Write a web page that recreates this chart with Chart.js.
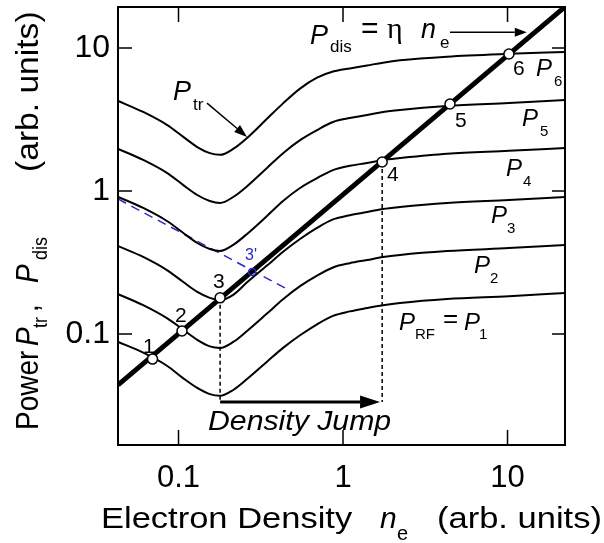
<!DOCTYPE html>
<html><head><meta charset="utf-8">
<script src="https://cdn.jsdelivr.net/npm/chart.js@4.4.1/dist/chart.umd.min.js"></script>
<style>html,body{margin:0;padding:0;background:#fff;}#wrap{width:604px;height:543px;}</style>
</head><body><div id="wrap"><canvas id="c" width="604" height="543"></canvas></div>
<script>
// ---------- DATA ----------
const density = [0.043,0.061,0.085,0.107,0.13,0.155,0.179,0.215,0.261,0.345,0.432,0.548,0.695,0.869,1.10,1.40,1.75,2.22,4.29,10.2,22.4];
const P1 = [0.088,0.074,0.060,0.049,0.042,0.038,0.037,0.0406,0.0484,0.064,0.080,0.098,0.117,0.134,0.144,0.152,0.159,0.165,0.176,0.184,0.1935];
const P2 = [0.190,0.159,0.129,0.107,0.091,0.082,0.080,0.088,0.105,0.139,0.175,0.216,0.256,0.292,0.313,0.329,0.345,0.357,0.380,0.399,0.419];
const P3 = [0.412,0.346,0.280,0.231,0.197,0.179,0.173,0.188,0.230,0.301,0.376,0.462,0.552,0.633,0.678,0.713,0.749,0.773,0.824,0.865,0.908];
const P4 = [0.909,0.761,0.617,0.509,0.433,0.393,0.381,0.420,0.501,0.669,0.852,1.05,1.23,1.40,1.50,1.57,1.65,1.70,1.82,1.91,2.00];
const P5 = [1.97,1.65,1.34,1.10,0.938,0.851,0.825,0.908,1.08,1.45,1.84,2.27,2.67,3.04,3.24,3.40,3.57,3.69,3.93,4.13,4.33];
const P6 = [4.26,3.57,2.90,2.39,2.03,1.84,1.79,1.97,2.35,3.20,4.10,5.20,6.20,6.85,7.20,7.55,7.90,8.20,8.70,9.10,9.38];
const curves = [P1,P2,P3,P4,P5,P6];

const disN = [0.0429, 22.36];          // P_dis = eta * n_e
const disP = [0.0441, 19.4];

const opN = [0.0695, 0.105, 0.179, 1.73, 4.47, 10.2];   // operating points 1..6
const opP = [0.0668, 0.105, 0.179, 1.595, 4.06, 9.08];
const opLabels = ['1','2','3','4','5','6'];

const p3primeN = [0.280];
const p3primeP = [0.271];
const blueN = [0.0429, 0.444];
const blueP = [0.879, 0.210];

const jumpN = [0.179, 1.73];       // vertical dashed lines
const jumpTopP = [0.179, 1.595];
const jumpBaseP = 0.0335;
const jumpArrowN = [0.179, 1.68];

const ptrArrowN = [0.149, 0.261], ptrArrowP = [4.12, 2.39];
const disArrowN = [4.47, 13.1],  disArrowP = [12.9, 12.9];

const xTicks = [0.1, 1, 10];
const xTickLabels = ['0.1','1','10'];
const yTicks = [0.1, 1, 10];
const yTickLabels = ['0.1','1','10'];

// ---------- STYLE ----------
const FONT = '"Liberation Sans", Arial, Helvetica, sans-serif';
const BLUE = '#2a2ac4';

const pts = (xs, ys) => xs.map((x,i)=>({x, y: Array.isArray(ys)? ys[i] : ys}));

const datasets = [];
datasets.push({data: pts(opN, opP), showLine:false, pointRadius:5, pointBackgroundColor:'#fff', pointBorderColor:'#000', pointBorderWidth:1.5});
datasets.push({data: pts(p3primeN, p3primeP), showLine:false, pointRadius:3.5, pointBackgroundColor:'rgba(0,0,0,0)', pointBorderColor:BLUE, pointBorderWidth:1.5});
datasets.push({data: pts(disN, disP), showLine:true, borderColor:'#000', borderWidth:5, pointRadius:0});
curves.forEach(c => datasets.push({data: pts(density, c), showLine:true, borderColor:'#000', borderWidth:2, pointRadius:0, cubicInterpolationMode:'monotone'}));
jumpN.forEach((n,i)=> datasets.push({data:[{x:n,y:jumpTopP[i]},{x:n,y:jumpBaseP}], showLine:true, borderColor:'#000', borderWidth:1.5, borderDash:[4,3], pointRadius:0}));
datasets.push({data: pts(blueN, blueP), showLine:true, borderColor:BLUE, borderWidth:1.5, borderDash:[9,6], pointRadius:0});

function seg(ctx, s){
  ctx.save();
  ctx.font = (s.italic?'italic ':'') + s.size + 'px ' + (s.family||FONT);
  ctx.fillStyle = s.color || '#000';
  ctx.textBaseline = 'alphabetic';
  ctx.translate(s.x, s.y);
  ctx.scale(s.sx||1, s.sy||1);
  ctx.fillText(s.t, 0, 0);
  ctx.restore();
}
function arrow(ctx, x1,y1,x2,y2, lw, hl, hw){
  const a = Math.atan2(y2-y1, x2-x1);
  const bx = x2 - hl*Math.cos(a), by = y2 - hl*Math.sin(a);
  ctx.save();
  ctx.strokeStyle='#000'; ctx.fillStyle='#000'; ctx.lineWidth=lw;
  ctx.beginPath(); ctx.moveTo(x1,y1); ctx.lineTo(bx,by); ctx.stroke();
  ctx.beginPath(); ctx.moveTo(x2,y2);
  ctx.lineTo(bx + hw/2*Math.sin(a), by - hw/2*Math.cos(a));
  ctx.lineTo(bx - hw/2*Math.sin(a), by + hw/2*Math.cos(a));
  ctx.closePath(); ctx.fill();
  ctx.restore();
}

// text annotations: pixel positions (left, baseline)
const labelSegs = [
  {t:'P', x:173, y:100, size:27, italic:true},
  {t:'tr', x:193, y:110, size:17},
  {t:'P', x:310, y:44, size:27, italic:true},
  {t:'dis', x:330, y:52, size:17},
  {t:'=', x:361, y:38, size:30},
  {t:'\u03b7', x:387, y:38, size:30, family:'"Liberation Serif", "DejaVu Serif", serif'},
  {t:'n', x:421, y:38, size:27, italic:true},
  {t:'e', x:440, y:48, size:17},
  {t:'P', x:536, y:76, size:24, italic:true}, {t:'6', x:554, y:86, size:15},
  {t:'P', x:522, y:126, size:24, italic:true}, {t:'5', x:540, y:136, size:15},
  {t:'P', x:506, y:176, size:24, italic:true}, {t:'4', x:523, y:186, size:15},
  {t:'P', x:491, y:223, size:24, italic:true}, {t:'3', x:507, y:233, size:15},
  {t:'P', x:474, y:273, size:24, italic:true}, {t:'2', x:490, y:283, size:15},
  {t:'P', x:399, y:330, size:24, italic:true}, {t:'RF', x:415, y:339, size:15},
  {t:'=', x:443, y:327, size:26},
  {t:'P', x:464, y:330, size:24, italic:true}, {t:'1', x:479, y:339, size:15},
  {t:'Density Jump', x:208, y:430, size:27, italic:true, sx:1.12},
  {t:"3'", x:245, y:260, size:16, color:BLUE},
  // x axis title
  {t:'Electron Density', x:101, y:528, size:30, sx:1.15},
  {t:'n', x:380, y:528, size:30, italic:true},
  {t:'e', x:397, y:540, size:20},
  {t:'(arb. units)', x:437, y:528, size:30, sx:1.15},
];
const numLabelPos = [[143,353],[175,322],[213,288],[387,181],[455,127],[513,75]];

// y title segments along the rotated direction (offset from bottom, baseline offset)
const yTitleSegs = [
  {t:'Power', d:0, b:0, size:28},
  {t:'P', d:84, b:0, size:28, italic:true},
  {t:'tr', d:102, b:9, size:18},
  {t:',', d:118, b:0, size:28},
  {t:'P', d:147, b:0, size:28, italic:true},
  {t:'dis', d:170, b:9, size:18},
  {t:'(arb. units)', d:258, b:0, size:28, sx:1.2},
];

const decor = {
  id:'decor',
  afterDatasetsDraw(chart){
    const ctx = chart.ctx, a = chart.chartArea, xs = chart.scales.x, ys = chart.scales.y;
    ctx.save();
    ctx.strokeStyle='#000'; ctx.lineWidth=2;
    ctx.strokeRect(a.left, a.top, a.right-a.left, a.bottom-a.top);
    ctx.lineWidth=1.5;
    xTicks.forEach(v=>{const px=xs.getPixelForValue(v);
      ctx.beginPath(); ctx.moveTo(px,a.bottom); ctx.lineTo(px,a.bottom-15); ctx.moveTo(px,a.top); ctx.lineTo(px,a.top+15); ctx.stroke();});
    yTicks.forEach(v=>{const py=ys.getPixelForValue(v);
      ctx.beginPath(); ctx.moveTo(a.left,py); ctx.lineTo(a.left+14,py); ctx.moveTo(a.right,py); ctx.lineTo(a.right-13,py); ctx.stroke();});
    ctx.restore();
    // arrows
    arrow(ctx, xs.getPixelForValue(jumpArrowN[0]), ys.getPixelForValue(jumpBaseP), xs.getPixelForValue(jumpArrowN[1]), ys.getPixelForValue(jumpBaseP), 3, 20, 13);
    arrow(ctx, xs.getPixelForValue(ptrArrowN[0]), ys.getPixelForValue(ptrArrowP[0]), xs.getPixelForValue(ptrArrowN[1]), ys.getPixelForValue(ptrArrowP[1]), 1.5, 13, 9);
    arrow(ctx, xs.getPixelForValue(disArrowN[0]), ys.getPixelForValue(disArrowP[0]), xs.getPixelForValue(disArrowN[1]), ys.getPixelForValue(disArrowP[1]), 1.5, 12, 9);
    labelSegs.forEach(s=>seg(ctx,s));
    opLabels.forEach((t,i)=>seg(ctx,{t, x:numLabelPos[i][0], y:numLabelPos[i][1], size:21}));
    ctx.save();
    ctx.translate(38, 430); ctx.rotate(-Math.PI/2);
    yTitleSegs.forEach(s=>seg(ctx,{t:s.t, x:s.d, y:s.b, size:s.size, italic:s.italic, sx:s.sx, sy:1.1}));
    ctx.restore();
  }
};

new Chart(document.getElementById('c'), {
  type:'scatter',
  data:{datasets},
  options:{
    responsive:false, animation:false, devicePixelRatio:1,
    layout:{padding:{left:0,right:39,top:7,bottom:0}},
    plugins:{legend:{display:false}, tooltip:{enabled:false}},
    scales:{
      x:{type:'logarithmic', min:0.04287, max:22.36,
        afterFit(s){ s.height = 98; s.paddingLeft = 0; s.paddingRight = 0; },
        afterBuildTicks(s){ s.ticks = xTicks.map(v=>({value:v})); },
        grid:{display:false, drawTicks:false}, border:{display:false},
        ticks:{color:'#000', font:{family:FONT, size:31}, padding:15, maxRotation:0, autoSkip:false,
          callback:(v)=>{const i=xTicks.indexOf(v); return i>=0?xTickLabels[i]:'';}}},
      y:{type:'logarithmic', min:0.01675, max:19.35,
        afterFit(s){ s.width = 118; s.paddingTop = 0; s.paddingBottom = 0; },
        afterBuildTicks(s){ s.ticks = yTicks.map(v=>({value:v})); },
        grid:{display:false, drawTicks:false}, border:{display:false},
        ticks:{color:'#000', font:{family:FONT, size:32}, padding:8, autoSkip:false,
          callback:(v)=>{const i=yTicks.indexOf(v); return i>=0?yTickLabels[i]:'';}}}
    }
  },
  plugins:[decor]
});
</script>
</body></html>
